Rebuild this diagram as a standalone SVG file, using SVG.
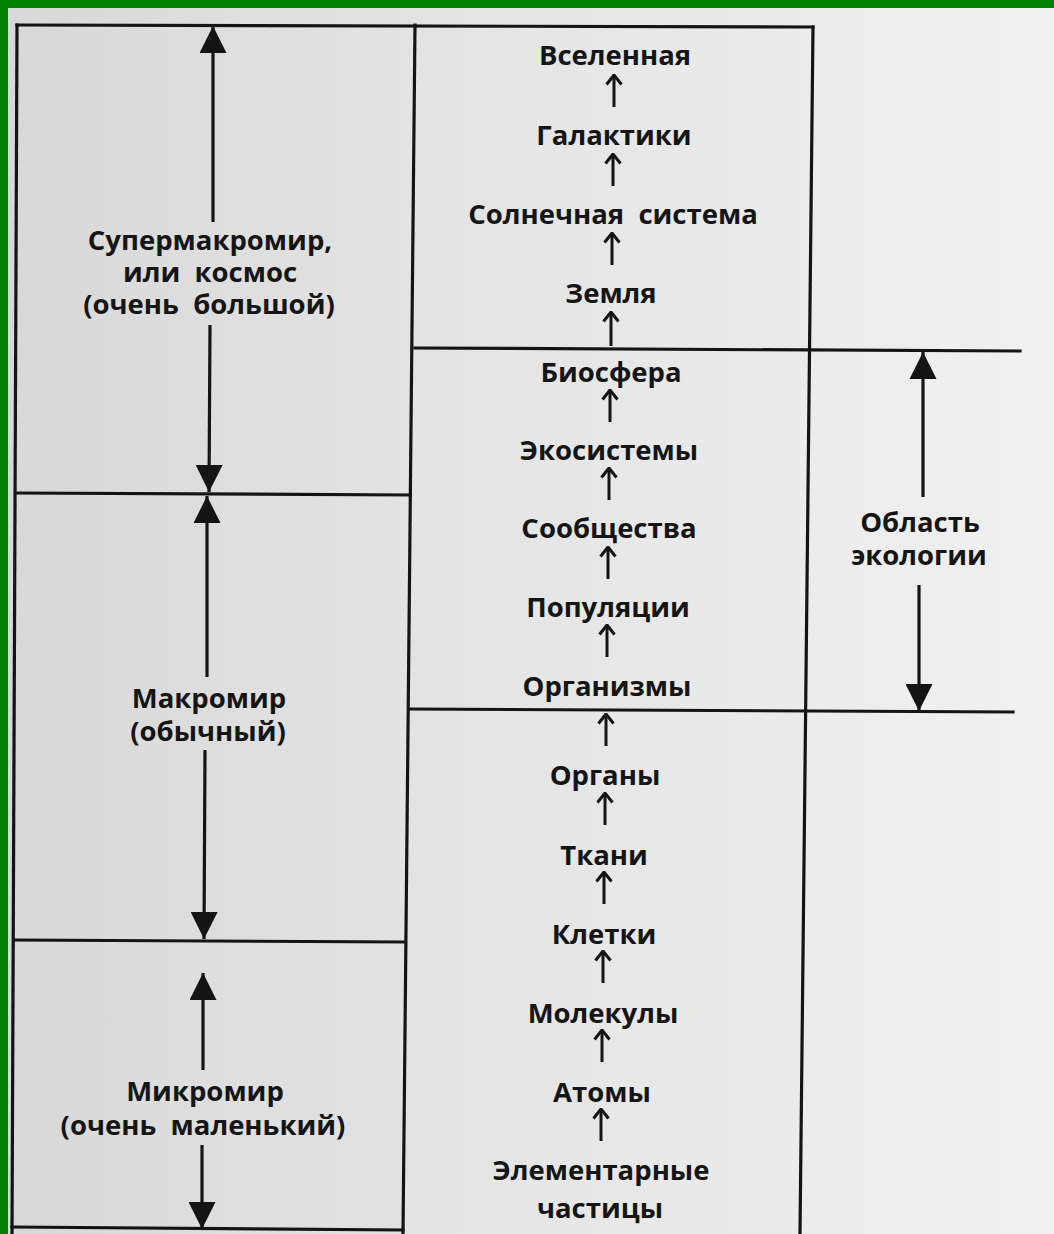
<svg xmlns="http://www.w3.org/2000/svg" width="1054" height="1234" viewBox="0 0 1054 1234">
<style>
.t{font-family:"Open Sans","Noto Sans","DejaVu Sans",sans-serif;font-weight:700;font-size:27.5px;fill:#151515;text-anchor:middle;white-space:pre}
.fr{stroke:#141414;stroke-width:3.2;fill:none;stroke-linecap:square}
.big{stroke:#141414;stroke-width:3.2;fill:none;marker-end:url(#bigHead)}
.sm{stroke:#141414;stroke-width:3;fill:none;marker-end:url(#smHead)}
</style>
<defs>
<linearGradient id="paper" x1="0" y1="0" x2="1" y2="0">
<stop offset="0" stop-color="#d8d8d8"/>
<stop offset="0.4" stop-color="#e3e3e3"/>
<stop offset="1" stop-color="#f1f1f1"/>
</linearGradient>
<marker id="bigHead" viewBox="0 0 27 27" refX="27" refY="13.5" markerWidth="27" markerHeight="27" markerUnits="userSpaceOnUse" orient="auto">
<path d="M0,0 L27,13.5 L0,27 z" fill="#141414"/>
</marker>
<marker id="smHead" viewBox="0 0 12 18" refX="10.5" refY="9" markerWidth="12" markerHeight="18" markerUnits="userSpaceOnUse" orient="auto">
<path d="M1,1.5 L10.5,9 L1,16.5" fill="none" stroke="#141414" stroke-width="3"/>
</marker>
</defs>
<rect x="0" y="0" width="1054" height="1234" fill="url(#paper)"/>
<rect x="0" y="0" width="1054" height="8" fill="#008000"/>
<rect x="0" y="0" width="8" height="1234" fill="#008000"/>

<g id="frame">
<line class="fr" x1="17" y1="25" x2="813" y2="27"/>
<line class="fr" x1="17" y1="25" x2="12" y2="1234"/>
<line class="fr" x1="415" y1="25" x2="403" y2="1234"/>
<line class="fr" x1="813" y1="27" x2="800" y2="1234"/>
<line class="fr" x1="16" y1="493" x2="410" y2="495"/>
<line class="fr" x1="14" y1="940" x2="405" y2="942"/>
<line class="fr" x1="12" y1="1227" x2="403" y2="1230"/>
<line class="fr" x1="415" y1="348" x2="1020" y2="351"/>
<line class="fr" x1="410" y1="709" x2="1013" y2="712"/>
</g>

<g id="connectors">
<line class="big" x1="213" y1="222" x2="213" y2="26"/>
<line class="big" x1="210" y1="325" x2="209" y2="492"/>
<line class="big" x1="207" y1="677" x2="207" y2="496"/>
<line class="big" x1="205" y1="750" x2="204" y2="939"/>
<line class="big" x1="203" y1="1070" x2="203" y2="973"/>
<line class="big" x1="202" y1="1145" x2="202" y2="1229"/>
<line class="big" x1="923" y1="497" x2="923" y2="352"/>
<line class="big" x1="919" y1="585" x2="919" y2="711"/>

<line class="sm" x1="614" y1="107" x2="614" y2="75"/>
<line class="sm" x1="613" y1="186" x2="613" y2="154"/>
<line class="sm" x1="612" y1="265" x2="612" y2="233"/>
<line class="sm" x1="611" y1="346" x2="611" y2="312"/>
<line class="sm" x1="610" y1="422" x2="610" y2="390"/>
<line class="sm" x1="609" y1="500" x2="609" y2="468"/>
<line class="sm" x1="608" y1="579" x2="608" y2="547"/>
<line class="sm" x1="607" y1="657" x2="607" y2="625"/>
<line class="sm" x1="606" y1="746" x2="606" y2="714"/>
<line class="sm" x1="605" y1="825" x2="605" y2="793"/>
<line class="sm" x1="604" y1="904" x2="604" y2="872"/>
<line class="sm" x1="603" y1="983" x2="603" y2="951"/>
<line class="sm" x1="602" y1="1062" x2="602" y2="1030"/>
<line class="sm" x1="601" y1="1141" x2="601" y2="1109"/>
</g>

<g id="n-supermacro"><text class="t" x="210" y="250">Супермакромир,</text><text class="t" x="210" y="282">или  космос</text><text class="t" x="209" y="314">(очень  большой)</text></g>
<g id="n-macro"><text class="t" x="209" y="708">Макромир</text><text class="t" x="208" y="741">(обычный)</text></g>
<g id="n-micro"><text class="t" x="205" y="1101">Микромир</text><text class="t" x="203" y="1135">(очень  маленький)</text></g>
<g id="n-ecology"><text class="t" x="920" y="532">Область</text><text class="t" x="919" y="565">экологии</text></g>

<g id="n-universe"><text class="t" x="615" y="65">Вселенная</text></g>
<g id="n-galaxies"><text class="t" x="614" y="145">Галактики</text></g>
<g id="n-solar"><text class="t" x="613" y="224">Солнечная  система</text></g>
<g id="n-earth"><text class="t" x="611" y="303">Земля</text></g>
<g id="n-biosphere"><text class="t" x="611" y="382">Биосфера</text></g>
<g id="n-ecosystems"><text class="t" x="609" y="460">Экосистемы</text></g>
<g id="n-communities"><text class="t" x="609" y="538">Сообщества</text></g>
<g id="n-populations"><text class="t" x="608" y="617">Популяции</text></g>
<g id="n-organisms"><text class="t" x="607" y="696">Организмы</text></g>
<g id="n-organs"><text class="t" x="605" y="785">Органы</text></g>
<g id="n-tissues"><text class="t" x="604" y="865">Ткани</text></g>
<g id="n-cells"><text class="t" x="604" y="944">Клетки</text></g>
<g id="n-molecules"><text class="t" x="603" y="1023">Молекулы</text></g>
<g id="n-atoms"><text class="t" x="602" y="1102">Атомы</text></g>
<g id="n-particles"><text class="t" x="601" y="1180">Элементарные</text><text class="t" x="600" y="1218">частицы</text></g>
</svg>
